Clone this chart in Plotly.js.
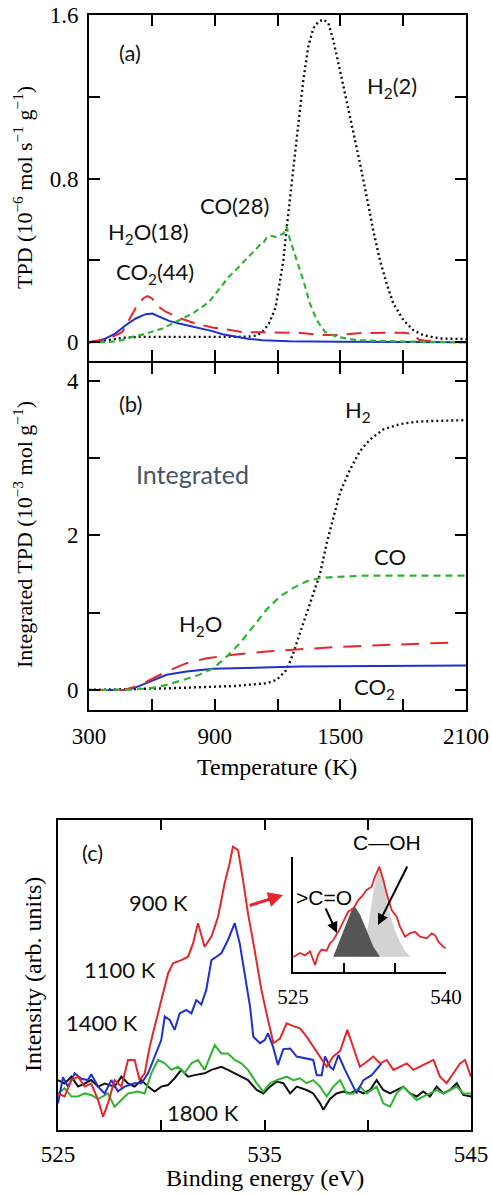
<!DOCTYPE html>
<html><head><meta charset="utf-8">
<script src="https://cdn.plot.ly/plotly-3.0.1.min.js"></script>
<style>html,body{margin:0;padding:0;background:#fff;}#chart{width:492px;height:1195px;}</style>
</head><body><div id="chart"></div>
<script>
// ---------- Panel (a): TPD (10^-6 mol s^-1 g^-1) vs temperature (K) ----------
const aT_H2 = [300,350,400,460,540,650,750,850,950,1016,1069,1100,1128,1159,1191,1212,1228,1244,1260,1275,1299,1323,1347,1371,1395,1419,1443,1466,1498,1530,1562,1594,1626,1657,1689,1721,1753,1801,1848,1896,1976,2100];
const aH2   = [0,0.005,0.012,0.021,0.026,0.026,0.025,0.024,0.024,0.026,0.028,0.033,0.05,0.09,0.17,0.30,0.40,0.56,0.70,0.84,1.05,1.28,1.445,1.535,1.567,1.578,1.56,1.478,1.331,1.184,1.037,0.874,0.711,0.548,0.401,0.287,0.189,0.108,0.059,0.034,0.018,0.015];
const aT_CO = [300,395,459,507,555,602,650,698,746,793,841,873,905,937,968,1000,1032,1064,1096,1116,1128,1148,1170,1190,1212,1228,1244,1260,1292,1323,1355,1387,1427,1483,1578,1689,1800,2100];
const aCO   = [0,0,0.01,0.026,0.037,0.05,0.067,0.091,0.116,0.14,0.173,0.197,0.238,0.279,0.32,0.352,0.385,0.42,0.45,0.475,0.48,0.51,0.52,0.515,0.525,0.53,0.564,0.50,0.40,0.303,0.189,0.108,0.05,0.026,0.01,0.005,0.003,0];
const aT_H2O = [300,348,420,459,491,530,560,579,600,630,666,738,809,889,960,1040,1130,1200,1300,1419,1483,1600,1700,1800,1850,1875,1900,1945];
const aH2O   = [0,0.01,0.03,0.05,0.108,0.18,0.215,0.225,0.215,0.175,0.149,0.116,0.091,0.072,0.062,0.048,0.048,0.046,0.046,0.035,0.035,0.045,0.046,0.046,0.04,0.012,0.008,0.005];
const aT_CO2 = [300,364,427,475,523,571,602,634,682,730,777,825,889,937,1000,1064,1128,1255,1500,2100];
const aCO2   = [0,0.01,0.043,0.083,0.116,0.137,0.14,0.127,0.104,0.091,0.08,0.067,0.054,0.039,0.026,0.016,0.01,0.005,0.002,0];

// ---------- Panel (b): Integrated TPD (10^-3 mol g^-1) ----------
const bT_H2 = [300,512,671,830,989,1148,1196,1244,1276,1307,1339,1371,1403,1435,1467,1498,1546,1594,1642,1705,1785,1864,1944,2100];
const bH2   = [0,0.01,0.02,0.035,0.05,0.086,0.13,0.26,0.48,0.735,0.99,1.25,1.50,1.90,2.25,2.55,2.85,3.09,3.24,3.37,3.44,3.47,3.48,3.49];
const bT_CO = [300,464,511,591,671,750,830,893,957,1021,1085,1148,1212,1276,1339,1403,1467,1626,1785,2100];
const bCO   = [0,0,0.005,0.02,0.065,0.13,0.2,0.28,0.43,0.605,0.82,1.04,1.21,1.32,1.405,1.45,1.46,1.48,1.48,1.48];
const bT_H2O = [300,464,512,575,671,766,862,989,1148,1307,1467,1626,1785,1944,2040];
const bH2O   = [0,0,0.035,0.108,0.238,0.346,0.41,0.454,0.497,0.528,0.553,0.571,0.592,0.605,0.614];
const bT_CO2 = [300,464,512,575,671,766,893,989,1148,1307,1467,1626,2100];
const bCO2   = [0,0,0.02,0.086,0.195,0.238,0.275,0.28,0.294,0.303,0.307,0.31,0.316];

// ---------- Panel (c): XPS O1s, intensity (arb. units) vs binding energy (eV) ----------
const cE_900 = [525.00,525.32,525.65,525.97,526.29,526.61,526.94,527.18,527.42,527.74,528.07,528.39,528.71,528.95,529.20,529.44,529.68,530.00,530.33,530.57,530.97,531.30,531.54,531.78,532.10,532.43,532.75,533.07,533.31,533.47,533.72,533.96,534.20,534.52,534.85,535.10,535.43,535.75,536.07,536.40,536.72,537.04,537.36,537.69,538.01,538.33,538.66,539.01,539.30,539.62,539.95,540.27,540.60,540.92,541.24,541.56,541.89,542.21,542.53,542.86,543.18,543.50,543.82,544.15,544.47,544.71,545.00];
const c900   = [11.8,10.8,16.1,17.2,14.0,15.0,9.7,4.3,8.6,16.1,14.0,22.6,22.6,16.1,18.3,26.9,33.3,41.9,50.5,53.8,54.8,55.9,60.2,66.7,59.1,62.4,68.8,79.6,86.0,91.4,90.3,80.6,69.9,58.1,45.2,37.6,28.0,29.5,34.4,33.5,32.8,30.1,26.9,23.7,20.4,23.7,25.5,32.3,26.9,20.4,22.0,23.7,21.5,22.6,19.4,20.4,21.5,19.4,20.4,21.5,22.6,17.2,15.1,18.3,21.5,22.6,17.2];
const cE_1100 = [525.00,525.24,525.48,525.81,526.13,526.45,526.61,526.94,527.26,527.58,527.90,528.23,528.71,529.04,529.36,529.68,530.00,530.17,530.41,530.65,530.89,531.21,531.46,531.70,531.94,532.18,532.43,532.67,532.91,533.23,533.56,533.80,534.04,534.30,534.46,534.78,535.01,535.17,535.41,535.65,535.91,536.24,536.56,537.04,537.36,537.53,537.77,537.93,538.17,538.33,538.58,538.90,539.22,539.46,539.79,540.19,540.67];
const c1100   = [8.6,17.0,14.0,18.3,16.5,16.1,18.0,14.0,11.8,16.1,12.5,14.0,15.1,15.1,18.3,23.7,29.0,36.6,35.5,32.3,37.6,38.7,37.6,41.9,40.5,45.2,54.8,55.9,57.0,61.3,66.7,60.2,50.5,39.8,30.1,28.0,29.0,31.2,26.9,21.0,26.1,26.3,23.7,23.1,22.6,17.7,17.7,23.7,20.4,19.5,24.2,19.4,15.1,11.8,16.1,17.7,21.5];
const cE_1400 = [525.00,525.32,525.65,525.97,526.29,526.61,526.94,527.42,527.74,528.07,528.39,528.87,529.20,529.52,529.84,530.17,530.49,530.81,531.13,531.46,531.78,532.10,532.43,532.59,532.91,533.23,533.56,533.88,534.20,534.62,534.94,535.27,535.59,536.07,536.40,536.72,537.04,537.36,537.69,538.01,538.33,538.66,538.98,539.30,539.62,539.95,540.43,540.75,541.08,541.40,541.72,542.05,542.37,542.69,543.01,543.34,543.66,543.98,544.31,544.63,545.00];
const c1400   = [11.8,13.5,10.8,10.8,11.8,11.3,10.0,11.8,7.5,9.7,11.8,12.4,11.8,18.3,22.6,21.5,19.4,20.4,18.3,21.5,22.6,19.4,24.7,27.4,24.7,24.7,22.6,21.5,19.4,15.1,12.4,15.1,16.1,17.2,16.1,16.7,15.1,16.1,14.0,10.8,14.0,16.1,11.8,11.8,14.0,11.8,14.0,8.6,7.5,11.8,14.0,11.8,9.7,10.8,11.8,12.9,11.8,12.9,14.0,11.8,11.8];
const cE_1800 = [525.00,525.32,525.65,525.97,526.29,526.61,526.94,527.26,527.74,528.07,528.39,528.71,529.04,529.36,529.68,530.00,530.33,530.65,530.97,531.30,531.62,532.10,532.43,532.91,533.23,533.56,533.88,534.20,534.62,534.94,535.27,535.59,535.91,536.24,536.56,537.04,537.36,537.69,537.85,538.17,538.49,538.82,539.14,539.46,539.79,540.11,540.43,540.75,541.08,541.40,541.72,542.05,542.37,542.69,543.01,543.34,543.66,543.98,544.31,544.63,545.00];
const c1800   = [16.1,15.0,17.2,14.0,15.0,16.1,14.0,15.0,14.0,17.2,15.0,14.0,16.1,14.0,12.4,14.0,14.5,16.7,19.4,17.2,17.7,18.3,19.4,20.4,19.4,18.3,17.2,16.1,12.9,11.8,14.0,15.6,15.1,11.8,14.0,12.9,11.8,8.6,6.5,10.0,11.8,12.4,11.8,12.9,11.8,12.9,16.1,12.9,11.8,12.9,14.0,11.8,10.8,12.4,10.8,14.0,11.8,12.9,15.1,11.3,10.8];

// ---------- Inset: 900 K spectrum and fitted components ----------
const iE_red = [525.03,525.69,526.18,526.67,527.16,527.48,527.81,528.30,528.63,528.95,529.44,529.93,530.42,530.92,531.41,531.73,532.22,532.71,533.04,533.46,533.86,534.18,534.67,535.16,535.49,535.98,536.47,536.96,537.45,538.10,538.60,538.92,539.25,539.74,539.97];
const iRed   = [13.0,16.5,14.5,18.0,6.1,15.5,19.5,18.5,24.9,27.8,35.1,43.8,52.5,55.4,62.6,65.5,71.3,74.2,82.9,91.6,80.0,68.4,53.9,48.1,39.4,30.7,33.6,35.0,30.7,29.3,33.6,32.0,26.4,22.0,20.6];
const iE_CO = [528.95,529.44,529.93,530.42,530.75,531.08,531.57,532.22,532.88,533.53];
const iCO   = [13.3,24,36,47,54,56.8,50,36,22,13.3];
const iE_COH = [531.3,531.9,532.4,532.9,533.43,534.0,534.5,535.0,535.5,536.0,536.5];
const iCOH   = [13.3,22,42,71,92,75,50,36,26,18,13.3];

// tick values
const tT_major = [300,900,1500,2100];
const tT_minor = [600,1200,1800];
const tA_major = [0,0.8,1.6];
const tA_minor = [0.4,1.2];
const tB_major = [0,2,4];
const tB_minor = [1,3];
const tE_major = [525,535,545];
const tE_minor = [530,540];
const tI_major = [525,540];
const tI_minor = [530,535];

const RED='#e5262a', GREEN='#2fb52f', BLUE='#1f2fd0', BLACK='#111111';
const serif = 'Liberation Serif, Times New Roman, serif';
const sans = 'Lato, Open Sans, sans-serif';

function L(x,y,xa,ya,color,dash,w){return {x:x,y:y,xaxis:xa,yaxis:ya,type:'scatter',mode:'lines',line:{color:color,dash:dash,width:w||2},hoverinfo:'skip',showlegend:false};}

const traces = [
  L(aT_H2,aH2,'x','y',BLACK,'2px,3px',2.4),
  L(aT_CO2,aCO2,'x','y',BLUE,'solid',2),
  L(aT_H2O,aH2O,'x','y',RED,'15px,9px',2),
  L(aT_CO,aCO,'x','y',GREEN,'6px,4px',2.2),
  L(bT_H2,bH2,'x2','y2',BLACK,'2px,3px',2.4),
  L(bT_CO2,bCO2,'x2','y2',BLUE,'solid',2),
  L(bT_H2O,bH2O,'x2','y2',RED,'18px,11px',2),
  L(bT_CO,bCO,'x2','y2',GREEN,'7px,5px',2.2),
  L(cE_1800,c1800,'x3','y3',BLACK,'solid',2),
  L(cE_1400,c1400,'x3','y3',GREEN,'solid',2),
  L(cE_1100,c1100,'x3','y3',BLUE,'solid',2),
  L(cE_900,c900,'x3','y3',RED,'solid',2),
  {x:iE_COH,y:iCOH,xaxis:'x4',yaxis:'y4',type:'scatter',mode:'lines',fill:'toself',fillcolor:'#d3d3d3',line:{width:0,color:'#d3d3d3'},hoverinfo:'skip',showlegend:false},
  {x:iE_CO,y:iCO,xaxis:'x4',yaxis:'y4',type:'scatter',mode:'lines',fill:'toself',fillcolor:'#555555',line:{width:0,color:'#555555'},hoverinfo:'skip',showlegend:false},
  L(iE_red,iRed,'x4','y4',RED,'solid',1.8)
];

function axis(o, minorVals, len, minorLen){
  const a = Object.assign({showline:true,linecolor:'#000',linewidth:2,mirror:'ticks',ticks:'inside',ticklen:len||11,tickwidth:2,tickcolor:'#000',
    showgrid:false,zeroline:false,tickmode:'array',tickfont:{family:serif,size:23,color:'#000'},fixedrange:true},o);
  if(minorVals){a.minor={tickmode:'array',tickvals:minorVals,ticks:'inside',ticklen:minorLen||len||11,tickwidth:2,tickcolor:'#000',showgrid:false};}
  return a;
}

const W=492,H=1195;
const px=v=>v/W, py=v=>1-v/H;

const layout = {
  width:W,height:H,margin:{l:0,r:0,t:0,b:0},paper_bgcolor:'#fff',plot_bgcolor:'rgba(0,0,0,0)',showlegend:false,
  xaxis: axis({domain:[px(89),px(466)],range:[300,2100],anchor:'y',tickvals:tT_major,showticklabels:false},tT_minor),
  yaxis: axis({domain:[py(361),py(15)],range:[-0.092,1.6],anchor:'x',tickvals:tA_major,ticklabelstandoff:4},tA_minor),
  xaxis2: axis({domain:[px(89),px(466)],range:[300,2100],anchor:'y2',tickvals:tT_major,ticklabelstandoff:4},tT_minor),
  yaxis2: axis({domain:[py(710),py(363)],range:[-0.26,4.23],anchor:'x2',tickvals:tB_major,ticklabelstandoff:4},tB_minor),
  xaxis3: axis({domain:[px(58),px(471)],range:[525,545],anchor:'y3',tickvals:tE_major,ticklabelstandoff:2},tE_minor,10),
  yaxis3: axis({domain:[py(1130),py(820)],range:[0,100],anchor:'x3',ticks:'',showticklabels:false,mirror:true}),
  xaxis4: axis({domain:[px(293),px(446)],range:[525,540],anchor:'y4',tickvals:tI_major,mirror:false,tickfont:{family:serif,size:21,color:'#000'},ticklabelstandoff:5},tI_minor,17,9),
  yaxis4: axis({domain:[py(972),py(857)],range:[0,100],anchor:'x4',ticks:'',showticklabels:false,mirror:false}),
  annotations: [
    // axis titles
    {xref:'paper',yref:'paper',x:px(23),y:py(188),text:'TPD (10<sup>−6</sup> mol s<sup>−1</sup> g<sup>−1</sup>)',textangle:-90,showarrow:false,font:{family:serif,size:22,color:'#000'},xanchor:'center',yanchor:'middle'},
    {xref:'paper',yref:'paper',x:px(23),y:py(535),text:'Integrated TPD (10<sup>−3</sup> mol g<sup>−1</sup>)',textangle:-90,showarrow:false,font:{family:serif,size:22,color:'#000'},xanchor:'center',yanchor:'middle'},
    {xref:'paper',yref:'paper',x:px(277),y:py(767),text:'Temperature (K)',showarrow:false,font:{family:serif,size:24,color:'#000'},xanchor:'center',yanchor:'middle'},
    {xref:'paper',yref:'paper',x:px(33),y:py(975),text:'Intensity (arb. units)',textangle:-90,showarrow:false,font:{family:serif,size:24,color:'#000'},xanchor:'center',yanchor:'middle'},
    {xref:'paper',yref:'paper',x:px(265),y:py(1178),text:'Binding energy (eV)',showarrow:false,font:{family:serif,size:24,color:'#000'},xanchor:'center',yanchor:'middle'},
    // panel (a) labels
    {xref:'x',yref:'y',x:496,y:1.419,text:'(a)',showarrow:false,font:{family:sans,size:22,color:'#111'}},
    {xref:'x',yref:'y',x:1747,y:1.248,text:'H<sub>2</sub>(2)',showarrow:false,font:{family:sans,size:22,color:'#111'}},
    {xref:'x',yref:'y',x:997,y:0.670,text:'CO(28)',showarrow:false,font:{family:sans,size:22,color:'#111'}},
    {xref:'x',yref:'y',x:582,y:0.533,text:'H<sub>2</sub>O(18)',showarrow:false,font:{family:sans,size:22,color:'#111'}},
    {xref:'x',yref:'y',x:615,y:0.338,text:'CO<sub>2</sub>(44)',showarrow:false,font:{family:sans,size:22,color:'#111'}},
    // panel (b) labels
    {xref:'x2',yref:'y2',x:496,y:3.70,text:'(b)',showarrow:false,font:{family:sans,size:22,color:'#111'}},
    {xref:'x2',yref:'y2',x:1584,y:3.61,text:'H<sub>2</sub>',showarrow:false,font:{family:sans,size:22,color:'#111'}},
    {xref:'x2',yref:'y2',x:792,y:2.79,text:'Integrated',showarrow:false,font:{family:sans,size:25,color:'#44546a'}},
    {xref:'x2',yref:'y2',x:1737,y:1.727,text:'CO',showarrow:false,font:{family:sans,size:22,color:'#111'}},
    {xref:'x2',yref:'y2',x:830,y:0.844,text:'H<sub>2</sub>O',showarrow:false,font:{family:sans,size:22,color:'#111'}},
    {xref:'x2',yref:'y2',x:1665,y:0.02,text:'CO<sub>2</sub>',showarrow:false,font:{family:sans,size:22,color:'#111'}},
    // panel (c) labels
    {xref:'x3',yref:'y3',x:526.69,y:89.4,text:'(c)',showarrow:false,font:{family:sans,size:22,color:'#111'}},
    {xref:'x3',yref:'y3',x:529.89,y:73.5,text:'900 K',showarrow:false,font:{family:sans,size:22,color:'#111'}},
    {xref:'x3',yref:'y3',x:528.0,y:51.9,text:'1100 K',showarrow:false,font:{family:sans,size:22,color:'#111'}},
    {xref:'x3',yref:'y3',x:527.13,y:34.8,text:'1400 K',showarrow:false,font:{family:sans,size:22,color:'#111'}},
    {xref:'x3',yref:'y3',x:532.02,y:5.5,text:'1800 K',showarrow:false,font:{family:sans,size:22,color:'#111'}},
    {xref:'x3',yref:'y3',x:535.9,y:75.8,ax:-35,ay:11,text:'',showarrow:true,arrowhead:2,arrowsize:1,arrowwidth:3,arrowcolor:RED,standoff:0},
    // inset labels
    {xref:'x4',yref:'y4',x:528.04,y:65.2,text:'&gt;C=O',showarrow:false,font:{family:'Liberation Sans, Arial, sans-serif',size:21,color:'#000'}},
    {xref:'paper',yref:'paper',x:px(423),y:py(856),text:'C—OH',showarrow:false,font:{family:'Liberation Sans, Arial, sans-serif',size:21,color:'#000'}},
    {xref:'x4',yref:'y4',x:529.31,y:33.9,ax:-12,ay:-26,text:'',showarrow:true,arrowhead:2,arrowsize:1.1,arrowwidth:2,arrowcolor:'#000',standoff:0},
    {xref:'x4',yref:'y4',x:533.33,y:40.9,ax:30,ay:-60,text:'',showarrow:true,arrowhead:2,arrowsize:1.1,arrowwidth:2,arrowcolor:'#000',standoff:0}
  ]
};

Plotly.newPlot('chart',traces,layout,{staticPlot:true,displayModeBar:false});
</script>
</body></html>
